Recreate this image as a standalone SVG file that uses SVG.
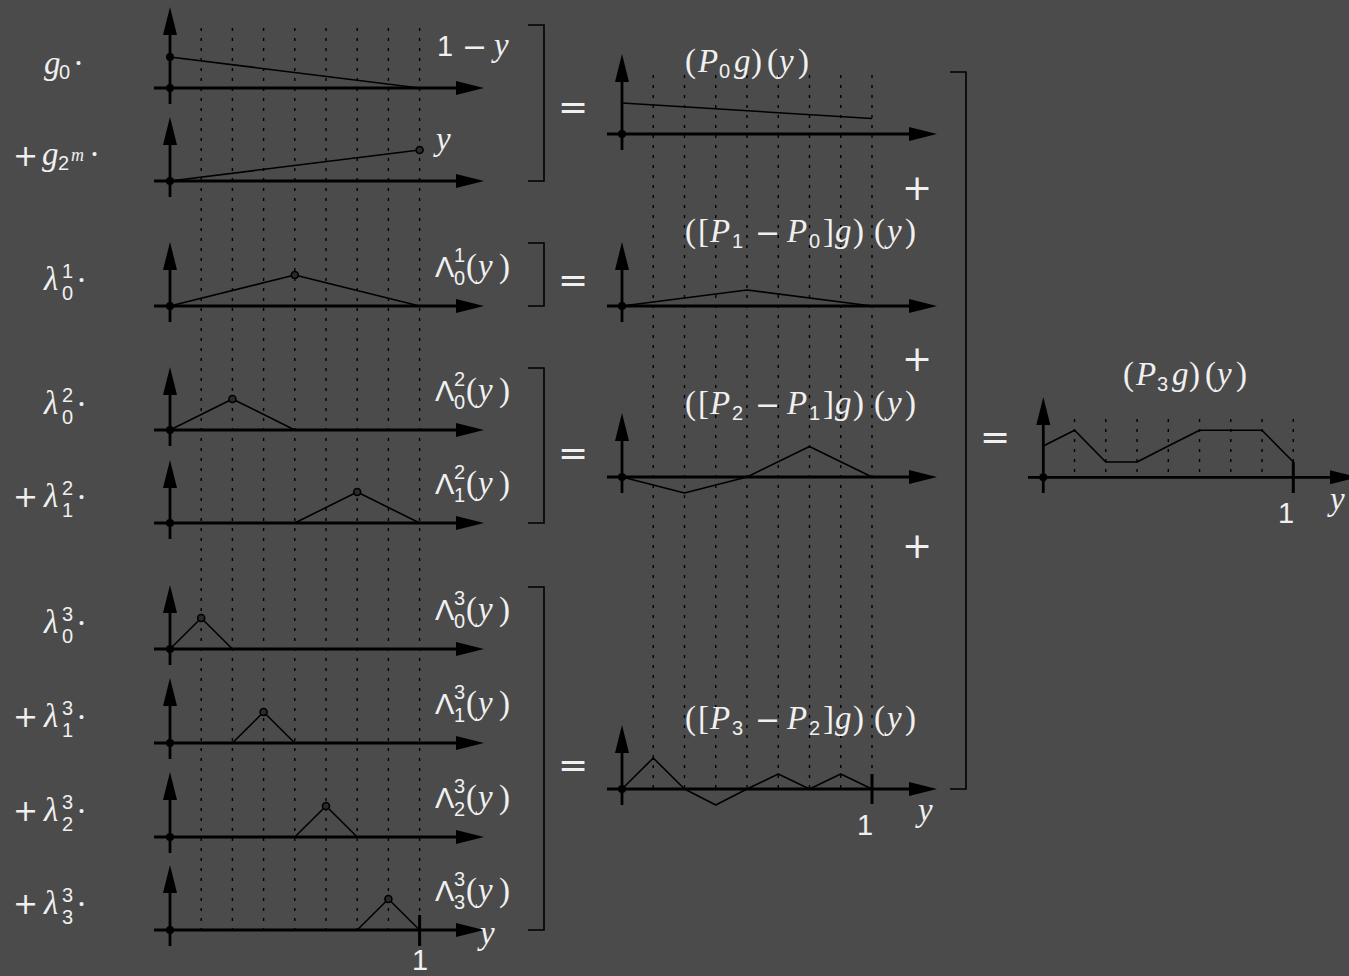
<svg xmlns="http://www.w3.org/2000/svg" width="1349" height="976" viewBox="0 0 1349 976">
<defs>
<marker id="ah" markerUnits="userSpaceOnUse" markerWidth="30" markerHeight="16" viewBox="0 -8 30 16" refX="18" refY="0" orient="auto"><path d="M0,-7 L28,0 L0,7 z" fill="#000"/></marker>
<style>
.ax{stroke:#000;stroke-width:2.8;fill:none;marker-end:url(#ah)}
.fn{stroke:#000;stroke-width:1.6;fill:none;stroke-linejoin:round}
.dl{stroke:#000;stroke-width:1.4;stroke-dasharray:3 7;fill:none}
.br{stroke:#000;stroke-width:1.6;fill:none}
.tk{stroke:#000;stroke-width:3;fill:none}
.o{fill:#000}
.pk{fill:#2a2a2a;stroke:#000;stroke-width:1.6}
text{fill:#f0f0f0}
.it{font-family:"Liberation Serif",serif;font-style:italic;font-size:33px}
.rm{font-family:"Liberation Serif",serif;font-size:33px}
.sf{font-family:"Liberation Sans",sans-serif;font-size:29px}
.ss{font-family:"Liberation Sans",sans-serif;font-size:20px}
.sm{font-family:"Liberation Serif",serif;font-style:italic;font-size:18px}
.op{font-family:"DejaVu Sans",sans-serif;font-size:30px}
.big{font-family:"DejaVu Sans",sans-serif;font-size:36px;text-anchor:middle}
</style>
</defs>
<rect width="1349" height="976" fill="#4b4b4b"/>

<g id="grid">
<path class="dl" d="M201.2,28V930M232.4,28V930M263.6,28V930M294.8,28V930M326,28V930M357.2,28V930M388.4,28V930M419.6,28V930"/>
<path class="dl" d="M653.25,75V789M684.5,75V789M715.75,75V789M747,75V789M778.25,75V789M809.5,75V789M840.75,75V789M872,75V789"/>
<path class="dl" d="M1074.55,419V477M1105.8,419V477M1137.05,419V477M1168.3,419V477M1199.55,419V477M1230.8,419V477M1262.05,419V477M1293.3,419V477"/>
</g>

<g id="connectors">
<path class="br" d="M528,25H544V181H528"/>
<path class="br" d="M528,243H544V306H528"/>
<path class="br" d="M528,368H544V523H528"/>
<path class="br" d="M528,587H544V930H528"/>
<path class="br" d="M950,72H966V789H950"/>
<text class="big" x="573" y="119">=</text>
<text class="big" x="573" y="292">=</text>
<text class="big" x="573" y="465">=</text>
<text class="big" x="573" y="777">=</text>
<text class="big" x="995" y="449">=</text>
<text class="big" x="917" y="200">+</text>
<text class="big" x="917" y="371">+</text>
<text class="big" x="917" y="558">+</text>
</g>

<g id="row-g0">
<path class="ax" d="M154,88H474"/>
<path class="ax" d="M170,104V17"/>
<polyline class="fn" points="170,57 419.6,88"/>
<circle class="o" cx="170" cy="88" r="4"/>
<circle class="o" cx="170" cy="57" r="4"/>
<text><tspan class="it" x="44" y="74">g</tspan><tspan class="ss" x="59" y="79">0</tspan><tspan class="rm" x="73" y="74">·</tspan></text>
<text><tspan class="sf" x="437" y="56">1</tspan><tspan class="op" x="462" y="57">−</tspan><tspan class="it" x="494" y="56">y</tspan></text>
</g>

<g id="row-g2m">
<path class="ax" d="M154,181H474"/>
<path class="ax" d="M170,197V127"/>
<polyline class="fn" points="170,181 419.6,150"/>
<circle class="o" cx="170" cy="181" r="4"/>
<circle class="pk" cx="419.6" cy="150" r="3.5"/>
<text><tspan class="op" x="13" y="166">+</tspan><tspan class="it" x="42" y="165">g</tspan><tspan class="ss" x="58" y="170">2</tspan><tspan class="sm" x="71" y="161">m</tspan><tspan class="rm" x="89" y="165">·</tspan></text>
<text class="it" x="436" y="150">y</text>
</g>

<g id="row-l10">
<path class="ax" d="M154,306H474"/>
<path class="ax" d="M170,322V252"/>
<polyline class="fn" points="170,306 294.8,275 419.6,306"/>
<circle class="o" cx="170" cy="306" r="4"/>
<circle class="pk" cx="294.8" cy="275" r="3.5"/>
<text><tspan class="it" x="44" y="290">λ</tspan><tspan class="ss" x="62" y="278">1</tspan><tspan class="ss" x="62" y="300">0</tspan><tspan class="rm" x="76" y="291">·</tspan></text>
<text><tspan class="sf" x="435" y="277">Λ</tspan><tspan class="ss" x="454" y="262">1</tspan><tspan class="ss" x="454" y="285">0</tspan><tspan class="rm" x="466" y="277">(</tspan><tspan class="it" x="478" y="277">y</tspan><tspan class="rm" x="499" y="277">)</tspan></text>
</g>

<g id="row-l20">
<path class="ax" d="M154,430H474"/>
<path class="ax" d="M170,446V377"/>
<polyline class="fn" points="170,430 232.4,399 294.8,430"/>
<circle class="o" cx="170" cy="430" r="4"/>
<circle class="pk" cx="232.4" cy="399" r="3.5"/>
<text><tspan class="it" x="44" y="414">λ</tspan><tspan class="ss" x="62" y="402">2</tspan><tspan class="ss" x="62" y="424">0</tspan><tspan class="rm" x="76" y="415">·</tspan></text>
<text><tspan class="sf" x="435" y="401">Λ</tspan><tspan class="ss" x="454" y="386">2</tspan><tspan class="ss" x="454" y="409">0</tspan><tspan class="rm" x="466" y="401">(</tspan><tspan class="it" x="478" y="401">y</tspan><tspan class="rm" x="499" y="401">)</tspan></text>
</g>

<g id="row-l21">
<path class="ax" d="M154,523H474"/>
<path class="ax" d="M170,539V470"/>
<polyline class="fn" points="294.8,523 357.2,492 419.6,523"/>
<circle class="o" cx="170" cy="523" r="4"/>
<circle class="pk" cx="357.2" cy="492" r="3.5"/>
<text><tspan class="op" x="13" y="507">+</tspan><tspan class="it" x="44" y="507">λ</tspan><tspan class="ss" x="62" y="495">2</tspan><tspan class="ss" x="62" y="517">1</tspan><tspan class="rm" x="76" y="508">·</tspan></text>
<text><tspan class="sf" x="435" y="494">Λ</tspan><tspan class="ss" x="454" y="479">2</tspan><tspan class="ss" x="454" y="502">1</tspan><tspan class="rm" x="466" y="494">(</tspan><tspan class="it" x="478" y="494">y</tspan><tspan class="rm" x="499" y="494">)</tspan></text>
</g>

<g id="row-l30">
<path class="ax" d="M154,649H474"/>
<path class="ax" d="M170,665V595"/>
<polyline class="fn" points="170,649 201.2,618 232.4,649"/>
<circle class="o" cx="170" cy="649" r="4"/>
<circle class="pk" cx="201.2" cy="618" r="3.5"/>
<text><tspan class="it" x="44" y="633">λ</tspan><tspan class="ss" x="62" y="621">3</tspan><tspan class="ss" x="62" y="643">0</tspan><tspan class="rm" x="76" y="634">·</tspan></text>
<text><tspan class="sf" x="435" y="620">Λ</tspan><tspan class="ss" x="454" y="605">3</tspan><tspan class="ss" x="454" y="628">0</tspan><tspan class="rm" x="466" y="620">(</tspan><tspan class="it" x="478" y="620">y</tspan><tspan class="rm" x="499" y="620">)</tspan></text>
</g>

<g id="row-l31">
<path class="ax" d="M154,743H474"/>
<path class="ax" d="M170,759V688"/>
<polyline class="fn" points="232.4,743 263.6,712 294.8,743"/>
<circle class="o" cx="170" cy="743" r="4"/>
<circle class="pk" cx="263.6" cy="712" r="3.5"/>
<text><tspan class="op" x="13" y="727">+</tspan><tspan class="it" x="44" y="727">λ</tspan><tspan class="ss" x="62" y="715">3</tspan><tspan class="ss" x="62" y="737">1</tspan><tspan class="rm" x="76" y="728">·</tspan></text>
<text><tspan class="sf" x="435" y="714">Λ</tspan><tspan class="ss" x="454" y="699">3</tspan><tspan class="ss" x="454" y="722">1</tspan><tspan class="rm" x="466" y="714">(</tspan><tspan class="it" x="478" y="714">y</tspan><tspan class="rm" x="499" y="714">)</tspan></text>
</g>

<g id="row-l32">
<path class="ax" d="M154,837H474"/>
<path class="ax" d="M170,853V782"/>
<polyline class="fn" points="294.8,837 326,806 357.2,837"/>
<circle class="o" cx="170" cy="837" r="4"/>
<circle class="pk" cx="326" cy="806" r="3.5"/>
<text><tspan class="op" x="13" y="821">+</tspan><tspan class="it" x="44" y="821">λ</tspan><tspan class="ss" x="62" y="809">3</tspan><tspan class="ss" x="62" y="831">2</tspan><tspan class="rm" x="76" y="822">·</tspan></text>
<text><tspan class="sf" x="435" y="808">Λ</tspan><tspan class="ss" x="454" y="793">3</tspan><tspan class="ss" x="454" y="816">2</tspan><tspan class="rm" x="466" y="808">(</tspan><tspan class="it" x="478" y="808">y</tspan><tspan class="rm" x="499" y="808">)</tspan></text>
</g>

<g id="row-l33">
<path class="ax" d="M154,930H474"/>
<path class="ax" d="M170,946V875"/>
<polyline class="fn" points="357.2,930 388.4,899 419.6,930"/>
<path class="tk" d="M419.6,915V946"/>
<circle class="o" cx="170" cy="930" r="4"/>
<circle class="pk" cx="388.4" cy="899" r="3.5"/>
<text><tspan class="op" x="13" y="914">+</tspan><tspan class="it" x="44" y="914">λ</tspan><tspan class="ss" x="62" y="902">3</tspan><tspan class="ss" x="62" y="924">3</tspan><tspan class="rm" x="76" y="915">·</tspan></text>
<text><tspan class="sf" x="435" y="901">Λ</tspan><tspan class="ss" x="454" y="886">3</tspan><tspan class="ss" x="454" y="909">3</tspan><tspan class="rm" x="466" y="901">(</tspan><tspan class="it" x="478" y="901">y</tspan><tspan class="rm" x="499" y="901">)</tspan></text>
<text class="it" x="480" y="944">y</text>
<text class="sf" x="420" y="970" text-anchor="middle">1</text>
</g>

<g id="panel-P0">
<path class="ax" d="M607,134H927"/>
<path class="ax" d="M622,150V64"/>
<polyline class="fn" points="622,103 872,118.5"/>
<circle class="o" cx="622" cy="134" r="4"/>
<text><tspan class="rm" x="685" y="72">(</tspan><tspan class="it" x="698" y="72">P</tspan><tspan class="ss" x="719" y="78">0</tspan><tspan class="it" x="734" y="72">g</tspan><tspan class="rm" x="751" y="72">)</tspan><tspan class="rm" x="767" y="72">(</tspan><tspan class="it" x="779" y="72">y</tspan><tspan class="rm" x="798" y="72">)</tspan></text>
</g>

<g id="panel-P1">
<path class="ax" d="M607,306H927"/>
<path class="ax" d="M622,322V252"/>
<polyline class="fn" points="622,306 747,290 872,306"/>
<circle class="o" cx="622" cy="306" r="4"/>
<text><tspan class="rm" x="685" y="242">(</tspan><tspan class="rm" x="698" y="242">[</tspan><tspan class="it" x="710" y="242">P</tspan><tspan class="ss" x="732" y="248">1</tspan><tspan class="op" x="755" y="243">−</tspan><tspan class="it" x="787" y="242">P</tspan><tspan class="ss" x="809" y="248">0</tspan><tspan class="rm" x="823" y="242">]</tspan><tspan class="it" x="835" y="242">g</tspan><tspan class="rm" x="853" y="242">)</tspan><tspan class="rm" x="874" y="242">(</tspan><tspan class="it" x="887" y="242">y</tspan><tspan class="rm" x="905" y="242">)</tspan></text>
</g>

<g id="panel-P2">
<path class="ax" d="M607,477H927"/>
<path class="ax" d="M622,493V423"/>
<polyline class="fn" points="622,477 684.5,493 747,477 809.5,446.5 872,477"/>
<circle class="o" cx="622" cy="477" r="4"/>
<text><tspan class="rm" x="685" y="414">(</tspan><tspan class="rm" x="698" y="414">[</tspan><tspan class="it" x="710" y="414">P</tspan><tspan class="ss" x="732" y="420">2</tspan><tspan class="op" x="755" y="415">−</tspan><tspan class="it" x="787" y="414">P</tspan><tspan class="ss" x="809" y="420">1</tspan><tspan class="rm" x="823" y="414">]</tspan><tspan class="it" x="835" y="414">g</tspan><tspan class="rm" x="853" y="414">)</tspan><tspan class="rm" x="874" y="414">(</tspan><tspan class="it" x="887" y="414">y</tspan><tspan class="rm" x="905" y="414">)</tspan></text>
</g>

<g id="panel-P3">
<path class="ax" d="M607,789H927"/>
<path class="ax" d="M622,805V735"/>
<polyline class="fn" points="622,789 653.25,758 684.5,789 715.75,805 747,789 778.25,774 809.5,789 840.75,774 872,789"/>
<path class="tk" d="M872,774V804"/>
<circle class="o" cx="622" cy="789" r="4"/>
<text><tspan class="rm" x="685" y="729">(</tspan><tspan class="rm" x="698" y="729">[</tspan><tspan class="it" x="710" y="729">P</tspan><tspan class="ss" x="732" y="735">3</tspan><tspan class="op" x="755" y="730">−</tspan><tspan class="it" x="787" y="729">P</tspan><tspan class="ss" x="809" y="735">2</tspan><tspan class="rm" x="823" y="729">]</tspan><tspan class="it" x="835" y="729">g</tspan><tspan class="rm" x="853" y="729">)</tspan><tspan class="rm" x="874" y="729">(</tspan><tspan class="it" x="887" y="729">y</tspan><tspan class="rm" x="905" y="729">)</tspan></text>
<text class="sf" x="865" y="835" text-anchor="middle">1</text>
<text class="it" x="918" y="821">y</text>
</g>

<g id="panel-P3g">
<path class="ax" d="M1028,477.3H1348"/>
<path class="ax" d="M1043.3,493V407"/>
<polyline class="fn" points="1043.3,446 1074.55,430.3 1105.8,462 1137.05,462 1168.3,446 1199.55,430.3 1230.8,430.3 1262.05,430.3 1293.3,462"/>
<path class="tk" d="M1293.3,462V493"/>
<circle class="o" cx="1043.3" cy="477.3" r="4"/>
<text><tspan class="rm" x="1123" y="385">(</tspan><tspan class="it" x="1136" y="385">P</tspan><tspan class="ss" x="1157" y="391">3</tspan><tspan class="it" x="1172" y="385">g</tspan><tspan class="rm" x="1189" y="385">)</tspan><tspan class="rm" x="1205" y="385">(</tspan><tspan class="it" x="1217" y="385">y</tspan><tspan class="rm" x="1236" y="385">)</tspan></text>
<text class="sf" x="1286" y="523" text-anchor="middle">1</text>
<text class="it" x="1330" y="510">y</text>
</g>
</svg>
